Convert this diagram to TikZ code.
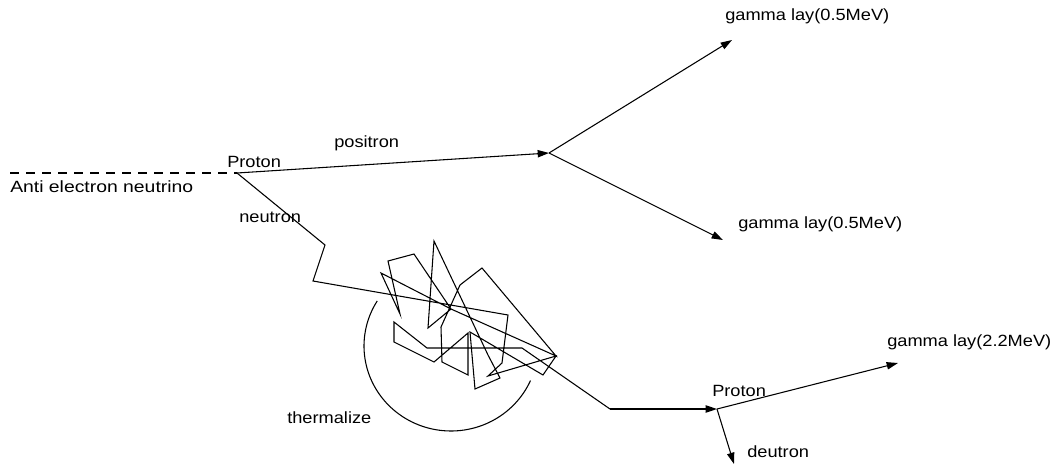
\documentclass[tikz,border=0pt]{standalone}
\usepackage{fontspec}
\usepackage{graphicx}
\setmainfont{Liberation Sans}
\usetikzlibrary{arrows.meta}
\newcommand\sx[1]{\scalebox{1.12}[1]{#1}}
\tikzset{
  lbl/.style={inner sep=0pt, anchor=base west, font=\fontsize{12.2}{14}\selectfont},
  trk/.style={line width=0.8pt, line join=miter},
  arr/.style={trk, -{Triangle[length=8.5pt,width=5.5pt]}}
}
\begin{document}
\begin{tikzpicture}[x=0.75pt,y=-0.75pt]
\useasboundingbox (0,0) rectangle (1058,465);
% key points
\coordinate (nu) at (10,173);
\coordinate (p1) at (237,173);
\coordinate (ann) at (549,153);
\coordinate (gup) at (732,40);
\coordinate (gdn) at (723,240);
\coordinate (p2) at (717,409);
\coordinate (g22) at (898,363);
\coordinate (deu) at (734,464);
\coordinate (ex) at (610,409);
% labels
\node[lbl] (tnu) at (10,192) {\scalebox{1.19}[1]{Anti electron neutrino}};
\node[lbl] (tp1) at (227,167) {\sx{Proton}};
\node[lbl] (tpos) at (334,147) {\sx{positron}};
\node[lbl] (tneu) at (239,222) {\sx{neutron}};
\node[lbl] (tgup) at (725,20) {\sx{gamma lay(0.5MeV)}};
\node[lbl] (tgdn) at (738,228) {\sx{gamma lay(0.5MeV)}};
\node[lbl] (tp2) at (712,396) {\sx{Proton}};
\node[lbl] (tg22) at (887,346) {\sx{gamma lay(2.2MeV)}};
\node[lbl] (tdeu) at (747,457) {\sx{deutron}};
\node[lbl] (tth) at (287,423) {\sx{thermalize}};
% neutrino
\draw[trk, dash pattern=on 7pt off 5pt] (nu) -- (p1);
% positron and annihilation gammas
\draw[arr] (p1) -- (ann);
\draw[arr] (ann) -- (gup);
\draw[arr] (ann) -- (gdn);
% neutron random walk
\draw[trk] (p1) -- (325,245) -- (313,281) -- (508,315) -- (502,363) -- (488,376)
  -- (556,356) -- (543,375) -- (470,332) -- (475,389) -- (500,378) -- (488,355)
  -- (434,241) -- (428,328) -- (451,309) -- (414,254) -- (388,261) -- (400,314)
  -- (381,273) -- (451,309) -- (556,356) -- (482,268) -- (460,285) -- (441,327)
  -- (442,362) -- (468,375) -- (468,333) -- (434,362) -- (394,342) -- (394,322)
  -- (427,348) -- (522,348) -- (ex);
\draw[arr] (ex) -- (p2);
% thermalize arc
\draw[trk] plot[domain=212:24, samples=80] ({451+87*cos(\x)},{346+85*sin(\x)});
% capture
\draw[arr] (p2) -- (g22);
\draw[arr] (p2) -- (deu);
\end{tikzpicture}
\end{document}
